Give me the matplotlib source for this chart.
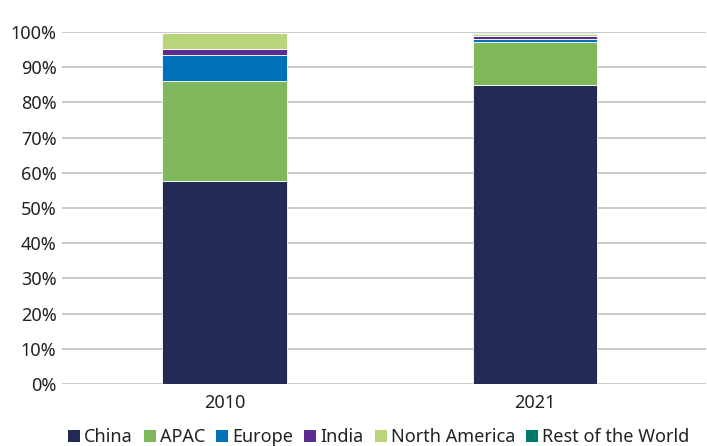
import matplotlib
matplotlib.use("Agg")
import matplotlib.pyplot as plt
from matplotlib.patches import Patch
import numpy as np

years = ["2010", "2021"]
series = ["China", "APAC", "Europe", "India", "North America", "Rest of the World"]
china = [57.8, 84.9]
apac = [28.2, 12.4]
europe = [7.4, 0.6]
india = [1.8, 1.0]
north_america = [4.5, 0.6]
rest_of_world = [0.0, 0.2]
values = [china, apac, europe, india, north_america, rest_of_world]
colors = ["#232a56", "#7fb85a", "#0070b8", "#5b2c8f", "#b9d57a", "#00786a"]
yticks = [0, 10, 20, 30, 40, 50, 60, 70, 80, 90, 100]

plt.rcParams['font.family'] = ['Noto Sans', 'DejaVu Sans']

fig = plt.figure(figsize=(7.07, 4.46), dpi=100)
W, H = 707, 446
ax = fig.add_axes([62 / W, 1 - 384 / H, (706 - 62) / W, (384 - 32) / H])

x = np.arange(len(years))
bottom = np.zeros(len(years))
for name, vals, c in zip(series, values, colors):
    v = np.array(vals)
    ax.bar(x, v, bottom=bottom, width=0.4, color=c, edgecolor="white", linewidth=0.6, zorder=3, label=name)
    bottom += v

ax.set_xlim(-0.5235, 1.5516)
ax.set_ylim(0, 100)
ax.set_yticks(yticks)
ax.set_yticklabels([f"{t}%" for t in yticks])
ax.set_xticks(x)
ax.set_xticklabels(years)
ax.yaxis.grid(True, color="#c0c0c0", linewidth=1.2, zorder=0)
ax.tick_params(axis="y", length=0, pad=4, labelsize=13, colors="#222222")
ax.tick_params(axis="x", length=0, pad=7, labelsize=13, colors="#222222")
for s in ax.spines.values():
    s.set_visible(False)

handles = [Patch(facecolor=c, edgecolor="none") for c in colors]
fig.legend(handles, series, loc="center left", bbox_to_anchor=(68 / W, 1 - 437 / H),
           ncol=6, frameon=False, fontsize=13.0, handlelength=0.66, handleheight=0.66,
           handletextpad=0.22, columnspacing=0.62, borderaxespad=0, borderpad=0,
           labelcolor="#222222")

fig.savefig("out.png", dpi=100)
